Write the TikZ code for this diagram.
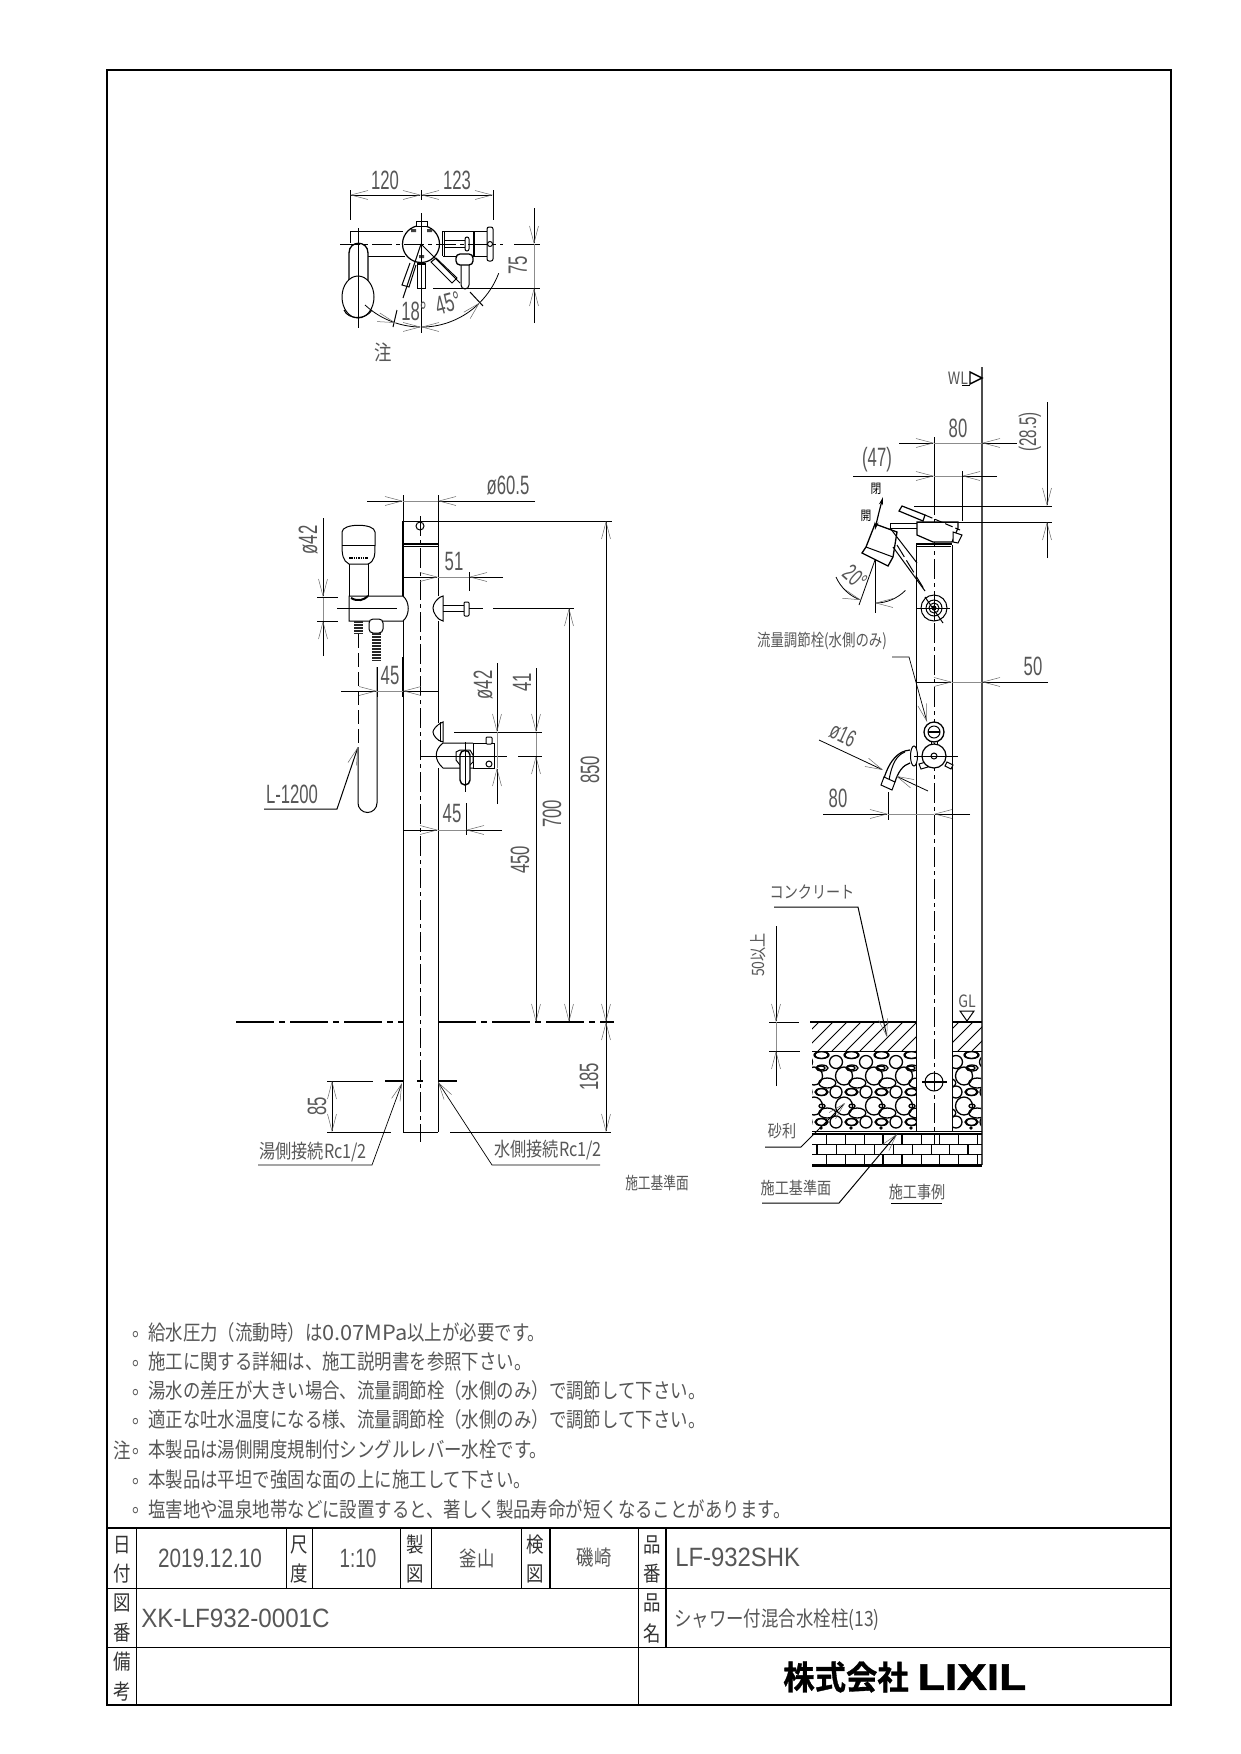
\documentclass[tikz,border=0pt]{standalone}
\usepackage{fontspec}
\usetikzlibrary{arrows.meta}
\newfontfamily\jpf[FakeStretch=.83]{Noto Sans CJK JP}
\newfontfamily\jpb[FakeStretch=.95,FakeBold=1]{Noto Sans CJK JP Bold}
\newfontfamily\dgf[FakeStretch=.63]{Liberation Sans}
\newfontfamily\lgf[FakeStretch=1.2,FakeBold=1.5]{Liberation Sans Bold}
\definecolor{txtc}{gray}{0.34}
\tikzset{
  x=1pt,y=-1pt,
  ab/.tip={Straight Barb[length=17pt,width=9pt,line width=.5pt,color=black!60]},
  ln/.style={line width=1pt,black},
  dl/.style={line width=.8pt,black},
  gd/.style={line width=.8pt,black!45},
  frameline/.style={line width=2.6pt,black},
  cell/.style={line width=1pt,black},
  cdash/.style={line width=.9pt,dash pattern=on 20pt off 4pt on 4pt off 4pt},
  gdash/.style={line width=2pt,dash pattern=on 38pt off 5pt on 6pt off 5pt},
  dt/.style={font=\dgf\fontsize{26.5}{27}\selectfont,text=txtc,inner sep=0pt},
  ts/.style={font=\dgf\fontsize{24}{25}\selectfont,text=txtc,inner sep=0pt},
  jt/.style={font=\jpf\fontsize{21}{22}\selectfont,text=txtc,inner sep=0pt},
  jm/.style={font=\jpf\fontsize{19.5}{22}\selectfont,text=txtc,inner sep=0pt},
  js/.style={font=\jpf\fontsize{17}{18}\selectfont,text=txtc,inner sep=0pt},
  jc/.style={font=\jpf\fontsize{21}{22}\selectfont,text=black!80,inner sep=0pt},
  nt/.style={jt,anchor=west},
}
\begin{document}
\begin{tikzpicture}
\useasboundingbox (0,0) rectangle (1240,1754);
\fill[white] (0,0) rectangle (1240,1754);
% ---------- frame and title block
\draw[line width=2pt] (107,70) rectangle (1171,1705);
\draw[frameline] (107,1528) -- (1171,1528);
\draw[frameline] (107,1705) -- (1171,1705);
\draw[cell] (107,1588) -- (1171,1588);
\draw[cell] (107,1647) -- (1171,1647);
\foreach \xx in {136,286,312,400,431,521,638}{\draw[cell] (\xx,1528) -- (\xx,1588);}
\draw[line width=1.8pt] (550,1528) -- (550,1588);
\draw[line width=1.8pt] (666,1528) -- (666,1647);
\draw[cell] (136,1588) -- (136,1705);
\draw[cell] (638,1588) -- (638,1705);
\node[jc] (a1) at (122,1545) {日};\node[jc] (a2) at (122,1574) {付};
\node[jc] (a3) at (299,1545) {尺};\node[jc] (a4) at (299,1574) {度};
\node[jc] (a5) at (415,1545) {製};\node[jc] (a6) at (415,1574) {図};
\node[jc] (a7) at (535,1545) {検};\node[jc] (a8) at (535,1574) {図};
\node[jc] (a9) at (652,1545) {品};\node[jc] (a10) at (652,1574) {番};
\node[jc] (a11) at (122,1603) {図};\node[jc] (a12) at (122,1633) {番};
\node[jc] (a13) at (652,1603) {品};\node[jc] (a14) at (652,1633) {名};
\node[jc] (a15) at (122,1662) {備};\node[jc] (a16) at (122,1692) {考};
\node[dt,xscale=1.24] (date) at (210,1558) {2019.12.10};
\node[dt,xscale=1.13] (scale) at (358,1558) {1:10};
\node[jt] (drawn) at (477,1558) {釜山};
\node[jt] (chk) at (594,1558) {磯崎};
\node[dt,xscale=1.43,anchor=west] (pno) at (675,1557) {LF-932SHK};
\node[dt,xscale=1.45,anchor=west] (dno) at (141,1618) {XK-LF932-0001C};
\node[jt,anchor=west] (pname) at (674,1620) {シャワー付混合水栓柱(13)};
\node[font=\jpb\fontsize{33}{34}\selectfont,inner sep=0pt] (co) at (846,1677) {株式会社};
\node[font=\lgf\fontsize{37}{38}\selectfont,inner sep=0pt] (lx) at (972,1677) {LIXIL};
% ---------- notes
\foreach \yy/\tt in {1333/給水圧力（流動時）は\scalebox{1.25}[1]{0.07MPa}以上が必要です。,
 1362/施工に関する詳細は、施工説明書を参照下さい。,
 1391/湯水の差圧が大きい場合、流量調節栓（水側のみ）で調節して下さい。,
 1420/適正な吐水温度になる様、流量調節栓（水側のみ）で調節して下さい。,
 1450/本製品は湯側開度規制付シングルレバー水栓です。,
 1480/本製品は平坦で強固な面の上に施工して下さい。,
 1509/塩害地や温泉地帯などに設置すると、著しく製品寿命が短くなることがあります。}{
  \node[nt] at (148,\yy) {\tt};
  \node[nt] at (132,\yy+2) {。};
}
\node[jt] (chu) at (122,1450) {注};
% ---------- top view
\draw[dl] (350,190) -- (350,220);
\draw[dl] (421,190) -- (421,200);
\draw[dl] (493,190) -- (493,220);
\draw[dl,ab-ab] (350,195) -- (421,195);
\draw[dl,ab-ab] (421,195) -- (493,195);
\node[dt] (t120) at (385,180) {120};
\node[dt] (t123) at (457,180) {123};
\draw[ln] (403,231) -- (350,231) -- (350,243);
\draw[ln] (368,256) -- (405,256);
\draw[ln] (443,231) -- (487,231);
\draw[ln] (443,256) -- (487,256);
\draw[ln] (442,231) -- (442,256);
\draw[ln] (444,231) -- (444,256);
\draw[line width=1.4pt] (474,231) -- (474,256);
\draw[ln] (444,240) -- (466,240);
\draw[ln] (444,247) -- (466,247);
\draw[ln,fill=white,rounded corners=2pt] (465,237) rectangle (469,251);
\draw[ln,fill=white,rounded corners=2pt] (487,227) rectangle (493,261);
\draw[ln] (490,244) circle[radius=2.5];
\draw[line width=1.2pt,fill=white] (421,244) circle[radius=18.5];
\draw[ln,fill=white] (416,221) rectangle (427,226);
\fill[black!75] (411,229) rectangle (416,232) (427,229) rectangle (432,232) (419,255) rectangle (424,258);
% pill + head
\draw[line width=1.3pt,fill=white] (349,285) -- (349,253) .. controls (349,240) and (368,240) .. (368,253) -- (368,285);
\draw[ln,fill=white] (358,297) ellipse[x radius=16,y radius=21];
\draw[ln] (344,310) .. controls (348,320) and (366,320) .. (372,310);
% levers
\draw[ln,fill=white] (417,263) -- (417,288) -- (425,288) -- (425,263);
\draw[line width=1.8pt] (417,264) -- (425,264);
\draw[ln,fill=white] (410,263) -- (402,285) -- (409,287) -- (416,265);
\draw[ln,fill=white] (436,258) -- (431,262) -- (452,283) -- (457,278) -- cycle;
\draw[ln,fill=white] (461,264) -- (461,285) arc[start angle=180,end angle=0,radius=4] -- (469,264);
\draw[line width=1.3pt,fill=white,rounded corners=4pt] (456,254) rectangle (473,265);
\draw[ln] (421,244) -- (460,283);
\draw[ln] (470,292) -- (483,306);
\draw[ln] (421,244) -- (403,298);
\draw[ln] (397,310) -- (393,327);
\draw[line width=1.8pt,cdash] (340,244) -- (503,244);
\draw[ln] (421,192) -- (421,200) (421,213) -- (421,333);
\draw[ln] (358,228) -- (358,328);
\draw[dl,-ab] (365,305) arc[start angle=132.6,end angle=108,radius=83];
\draw[dl,-ab] (395.4,322.9) arc[start angle=108,end angle=90,radius=83];
\draw[dl,ab-ab] (421,327) arc[start angle=90,end angle=45,radius=83];
\draw[dl] (479.7,302.7) arc[start angle=45,end angle=20.6,radius=83];
\node[dt] (t18) at (414,311) {18°};
\node[dt,rotate=15] (t45) at (448,303) {45°};
\node[jt] (tchu) at (383,352) {注};
\draw[dl] (514,244) -- (540,244);
\draw[dl] (433,288) -- (540,288);
\draw[dl,-ab] (534,208) -- (534,244);
\draw[gd] (534,244) -- (534,288);
\draw[dl,-ab] (534,323) -- (534,288);
\node[dt,rotate=90] (t75) at (518,265) {75};
% ---------- front view : post
\draw[ln] (403,521) -- (438,521);
\draw[line width=1.6pt] (403,521) -- (403,596);
\draw[ln] (403,621) -- (403,1132) -- (438,1132);
\draw[line width=1.8pt] (403,657) -- (403,697);
\draw[ln] (438,521) -- (438,596);
\draw[ln] (438,621) -- (438,723);
\draw[ln] (438,768) -- (438,1132);
\draw[line width=1.4pt] (403,544) -- (438,544);
\draw[ln] (403,546) -- (438,546);
\draw[ln] (420,526) circle[radius=4];
\draw[ln,cdash] (420,516) -- (420,1142);
% shower head, front
\draw[ln,fill=white] (342,545) -- (342,532) .. controls (342,523) and (375,523) .. (375,532) -- (375,545) .. controls (375,555) and (375,561) .. (368,564) -- (349,564) .. controls (343,561) and (342,555) .. (342,545);
\draw[ln] (342,545) -- (375,545);
\draw[line width=2.5pt,dash pattern=on 1.5pt off .8pt] (349,558) -- (368,558);
\draw[ln] (349,564) -- (349,596) (368,564) -- (368,596);
\draw[line width=2pt] (351,598) .. controls (358,602) and (364,600) .. (368,596);
% mixer body
\draw[ln] (349,596) -- (403,596) .. controls (410,602) and (410,615) .. (403,621) -- (349,621) -- cycle;
\draw[ln,dash pattern=on 60pt off 6pt] (337,608) -- (397,608);
\fill[black!85] (354,621) rectangle (363,634);
\foreach \yy in {623,626,...,634}{\draw[white,line width=.6pt] (354,\yy) -- (363,\yy);}
\draw[ln,fill=white,rounded corners=4pt] (369,619) rectangle (383,633);
\fill[black!85] (372,633) rectangle (381,661);
\foreach \yy in {635,638,...,661}{\draw[white,line width=.6pt] (372,\yy) -- (381,\yy);}
% hose
\draw[ln,dash pattern=on 14pt off 5pt] (358,634) -- (358,747);
\draw[ln] (358,747) -- (358,803) arc[start angle=180,end angle=0,radius=9.5] -- (377,667);
\node[dt] (l1200) at (292,794) {L-1200};
\draw[line width=1pt,-ab] (264,809) -- (337,809) -- (358,747);
% upper right knob
\draw[ln,fill=white] (443,596) .. controls (436,598) and (433,605) .. (433,608) .. controls (433,612) and (437,620) .. (443,621) -- cycle;
\draw[ln] (443,605) -- (465,605) (443,611) -- (465,611);
\draw[ln,fill=white,rounded corners=1pt] (464,602) rectangle (469,616);
\draw[ln,dash pattern=on 14pt off 6pt] (469,608) -- (484,608);
% lower right fitting
\draw[ln,fill=white] (443,722) .. controls (436,725) and (433,730) .. (433,732) .. controls (433,735) and (437,741) .. (443,742) -- cycle;
\draw[ln] (440,722) -- (440,742);
\draw[ln] (473,743) -- (443,743) .. controls (434,750) and (434,760) .. (443,768) -- (473,768);
\draw[ln] (473,743) rectangle (494,768);
\draw[ln,fill=white,rounded corners=1pt] (486,737) rectangle (492,744);
\draw[ln] (489,764) circle[radius=3];
\draw[ln,fill=white] (456,752) -- (460,750) -- (470,750) -- (473,755) -- (473,762) -- (470,765) -- (460,765) -- (456,760) -- cycle;
\draw[line width=1.4pt,fill=white] (460,755) -- (460,780) arc[start angle=180,end angle=0,radius=5] -- (470,755) .. controls (470,749) and (460,749) .. (460,755);
\draw[ln] (465,742) -- (465,792);
\draw[ln] (420,756) -- (507,756);
% dims front
\draw[dl] (403,495) -- (403,521) (438,495) -- (438,521);
\draw[dl,-ab] (367,501) -- (403,501);
\draw[gd] (403,501) -- (438,501);
\draw[dl,-ab] (535,501) -- (438,501);
\node[dt] (t605) at (508,485) {ø60.5};
\draw[dl] (438,521) -- (612,521);
\draw[dl,ab-ab] (606,521) -- (606,1022);
\node[dt,rotate=90] (t850) at (590,770) {850};
\draw[dl] (493,608) -- (574,608);
\draw[dl,ab-ab] (569,608) -- (569,1022);
\node[dt,rotate=90] (t700) at (552,814) {700};
\draw[dl,-ab] (536,1000) -- (536,1022);
\draw[dl,ab-] (536,756) -- (536,1000);
\node[dt,rotate=90] (t450) at (520,860) {450};
\draw[dl,-ab] (536,668) -- (536,732);
\draw[gd] (536,732) -- (536,756);
\draw[dl] (454,732) -- (542,732) (518,756) -- (542,756);
\node[dt,rotate=90] (t41) at (522,682) {41};
\draw[dl,-ab] (497,663) -- (497,732);
\draw[gd] (497,732) -- (497,768);
\draw[dl,-ab] (497,804) -- (497,768);
\node[dt,rotate=90] (t42b) at (483,685) {ø42};
\draw[dl] (466,803) -- (466,835);
\draw[dl] (403,830) -- (420,830);
\draw[dl,-ab] (420,830) -- (438,830);
\draw[gd] (438,830) -- (466,830);
\draw[dl,-ab] (502,830) -- (466,830);
\node[dt] (t45c) at (452,814) {45};
\draw[dl] (469,572) -- (469,591);
\draw[dl] (403,577) -- (420,577);
\draw[dl,-ab] (420,577) -- (438,577);
\draw[gd] (438,577) -- (469,577);
\draw[dl,-ab] (503,577) -- (469,577);
\node[dt] (t51) at (454,562) {51};
\draw[dl] (377,667) -- (377,697);
\draw[dl,-ab] (341,691) -- (377,691);
\draw[gd] (377,691) -- (403,691);
\draw[dl,-ab] (438,691) -- (403,691);
\node[dt] (t45d) at (390,676) {45};
\draw[dl,-ab] (323,518) -- (323,597);
\draw[gd] (323,597) -- (323,621);
\draw[dl,-ab] (323,656) -- (323,621);
\draw[dl] (317,597) -- (338,597) (317,621) -- (338,621);
\node[dt,rotate=90] (t42a) at (308,540) {ø42};
% ground front
\draw[gdash] (236,1022) -- (403,1022);
\draw[gdash] (438,1022) -- (614,1022);
\draw[dl] (327,1081) -- (373,1081);
\draw[line width=1.8pt] (385,1081) -- (403,1081) (417,1081) -- (423,1081) (438,1081) -- (457,1081);
\draw[dl] (327,1132) -- (391,1132);
\draw[dl] (450,1132) -- (611,1132);
\draw[dl,ab-ab] (332,1081) -- (332,1132);
\node[dt,rotate=90] (t85) at (317,1106) {85};
\draw[dl,ab-ab] (606,1022) -- (606,1132);
\node[dt,rotate=90] (t185) at (589,1077) {185};
\draw[line width=.7pt,-ab] (258,1165) -- (372,1165) -- (402,1083);
\draw[line width=.7pt,-ab] (600,1165) -- (492,1165) -- (438,1082);
\node[jm] (lhot) at (313,1152) {湯側接続Rc1/2};
\node[jm] (lcold) at (548,1150) {水側接続Rc1/2};
\node[js,xscale=.9] (lbase) at (657,1183) {施工基準面};
% ---------- side view
\draw[line width=2.6pt,black!70] (982,367) -- (982,1165);
\draw[line width=1.4pt,fill=white] (970,372) -- (982,378) -- (970,384) -- cycle;
\draw[ln] (962,385) -- (970,385);
\node[js] (wl) at (958,378) {WL};
\draw[ln] (916,545) -- (916,1131) -- (952,1131) -- (952,545);
\draw[ln,cdash] (934,495) -- (934,1145);
\draw[dl] (934,437) -- (934,495);
\draw[line width=1.4pt] (916,544) -- (952,544);
\draw[ln] (917,546) -- (951,546);
\draw[line width=1.2pt,fill=white] (899,511) -- (902,506) -- (925,515) -- (923,521) -- cycle;
\draw[ln] (890,528) -- (890,523) -- (917,523);
\draw[ln] (890,528) -- (917,528);
\draw[line width=1.2pt,fill=white] (917,522) -- (958,522) -- (958,528) -- (952,542) -- (933,542) -- (917,535) -- cycle;
\draw[ln,fill=white] (953,532) -- (962,535) -- (958,543) -- (953,542) -- cycle;
\draw[ln,dash pattern=on 8pt off 3pt] (925,515) -- (960,530);
% shower head, side
\draw[line width=1.3pt,fill=white] (875,524) -- (897,532) -- (893,557) -- (888,566) -- (862,553) -- (866,547) -- cycle;
\draw[ln] (866,547) -- (893,557);
\draw[ln] (890,528) -- (917,563);
\draw[ln] (893,547) -- (925,591);
\draw[ln,dash pattern=on 14pt off 4pt] (897,545) -- (924,589);
\draw[line width=1.2pt,{Stealth[length=8pt,width=4pt]}-{Stealth[length=8pt,width=4pt]}] (875,530) .. controls (877,520) and (880,508) .. (883,497);
\node[font=\jpf\fontsize{13}{14}\selectfont,inner sep=0pt] (opn) at (876,489) {閉};
\node[font=\jpf\fontsize{13}{14}\selectfont,inner sep=0pt] (cls) at (866,516) {開};
\draw[dl] (875,560) -- (875,613);
\draw[dl] (875,560) -- (859,605);
\draw[dl,-ab] (836,577) arc[start angle=156,end angle=109.5,radius=43];
\draw[dl,ab-] (875,603) arc[start angle=90,end angle=45,radius=43];
\node[ts,rotate=-42] (t20) at (855,577) {20°};
% valve top
\draw[ln,fill=white] (934,608) circle[radius=13];
\draw[ln] (934,608) circle[radius=8];
\draw[ln] (934,608) circle[radius=5];
\fill (934,608) circle[radius=2.5];
\draw[ln] (917,608) -- (950,608) (934,595) -- (934,621);
\draw[ln] (925,597) -- (943,623);
% dims side
\draw[dl,-ab] (899,443) -- (934,443);
\draw[gd] (934,443) -- (982,443);
\draw[dl,-ab] (1017,443) -- (982,443);
\node[dt] (t80a) at (958,428) {80};
\draw[dl,-ab] (853,476) -- (934,476);
\draw[gd] (934,476) -- (962,476);
\draw[dl,-ab] (997,476) -- (962,476);
\draw[dl] (962,471) -- (962,521);
\node[dt] (t47) at (877,460) {(47)};
\draw[dl] (914,506) -- (1052,506);
\draw[dl] (917,522) -- (1052,522);
\draw[dl,-ab] (1047,402) -- (1047,506);
\draw[dl,-ab] (1047,558) -- (1047,522);
\node[ts,rotate=90] (t285) at (1030,432) {(28.5)};
\node[js,xscale=.95] (lflow) at (822,641) {流量調節栓(水側のみ)};
\draw[line width=.7pt,-ab] (892,657) -- (909,657) -- (927,722);
\draw[dl] (916,682) -- (934,682);
\draw[dl,-ab] (934,682) -- (952,682);
\draw[gd] (952,682) -- (982,682);
\draw[dl,-ab] (1048,682) -- (982,682);
\node[dt] (t50) at (1033,666) {50};
% lower valve
\draw[ln] (931,741) -- (931,750) (937,741) -- (937,750);
\draw[line width=1.3pt,fill=white] (934,732) circle[radius=10];
\draw[ln] (934,732) circle[radius=6];
\draw[line width=1.8pt] (928,732) -- (940,732);
\draw[ln,fill=white] (947,762) -- (953,765) -- (951,769) -- (945,766) -- cycle;
\draw[ln,fill=white] (926,762) -- (919,764) -- (921,769) -- (928,767) -- cycle;
\draw[line width=1.2pt,fill=white] (934,756) circle[radius=12];
\draw[ln] (934,756) circle[radius=3];
\draw[ln,fill=white] (914,756) ellipse[x radius=3.5,y radius=10];
\draw[ln] (918,756) -- (922,756);
\draw[ln] (914,756) -- (958,756);
\draw[line width=1.2pt] (910,750) .. controls (898,751) and (890,760) .. (884,778);
\draw[line width=1.2pt] (910,763) .. controls (903,765) and (898,772) .. (895,782);
\draw[ln] (905,752) .. controls (897,755) and (892,763) .. (889,780);
\draw[ln,fill=white] (884,777) -- (895,782) -- (892,790) -- (881,785) -- cycle;
\draw[dl,-ab] (819,740) -- (883,770);
\draw[dl,-ab] (928,791) -- (896,776);
\node[ts,rotate=-25] (t16) at (843,735) {ø16};
\draw[dl] (888,792) -- (888,820);
\draw[dl,-ab] (823,814) -- (888,814);
\draw[gd] (888,814) -- (934,814);
\draw[dl,-ab] (970,814) -- (934,814);
\node[dt] (t80b) at (838,798) {80};
% ground side
\begin{scope}
\clip (812,1022) rectangle (916,1051) (952,1022) rectangle (982,1051);
\foreach \xx in {790,804,...,980}{\draw[line width=.9pt] (\xx,1051) -- (\xx+29,1022);}
\end{scope}
\draw[line width=1.8pt] (810,1022) -- (916,1022) (952,1022) -- (982,1022);
\draw[ln] (812,1051) -- (916,1051) (952,1051) -- (982,1051);
\begin{scope}
\clip (812,1051) rectangle (916,1131) (952,1051) rectangle (981,1131);
\foreach \cc in {-1,0,...,5}{
 \pgfmathsetmacro{\xa}{836+30*\cc}
 \pgfmathsetmacro{\xb}{\xa+8}
 \pgfmathsetmacro{\xc}{\xa-8.7}
 \pgfmathsetmacro{\xd}{\xa-14}
 \pgfmathsetmacro{\xe}{\xa+15}
 \begin{scope}[line width=1.3pt]
 \draw (\xa,1062) circle[radius=6.5];
 \draw (\xb,1076) ellipse[x radius=8.5,y radius=9];
 \draw (\xc,1083) ellipse[x radius=8.5,y radius=5];
 \draw (\xa,1092) circle[radius=6];
 \draw (\xb,1106) ellipse[x radius=8.5,y radius=9];
 \draw (\xc,1113) ellipse[x radius=8.5,y radius=5];
 \draw (\xa,1122) circle[radius=6];
 \draw (\xd,1055) ellipse[x radius=7,y radius=3.5];
 \draw (\xe,1055) ellipse[x radius=7,y radius=3.5];
 \draw (\xd,1068) ellipse[x radius=6,y radius=3];
 \draw (\xe,1068) ellipse[x radius=4,y radius=2];
 \draw (\xd,1092) ellipse[x radius=6,y radius=3.5];
 \draw (\xe,1092) ellipse[x radius=6,y radius=3.5];
 \draw (\xd,1106) ellipse[x radius=3,y radius=2];
 \draw (\xd,1122) ellipse[x radius=6,y radius=3.5];
 \draw (\xe,1122) ellipse[x radius=6,y radius=3.5];
 \fill (\xe,1128) circle[radius=1.8];
 \end{scope}
}
\end{scope}
\draw[ln] (812,1131) -- (982,1131);
\draw[line width=1.4pt] (812,1134) -- (982,1134);
\draw[ln] (812,1144) -- (982,1144) (812,1154) -- (982,1154);
\draw[line width=3pt] (812,1165) -- (982,1165);
\foreach \xx in {826,845,864,883,902,921,939,958,977}{\draw[ln] (\xx,1134) -- (\xx,1144) (\xx,1154) -- (\xx,1165);}
\foreach \xx in {836,855,874,893,912,931,949,968}{\draw[ln] (\xx,1144) -- (\xx,1154);}
\draw[line width=2pt] (883,1134) -- (883,1144) (902,1134) -- (902,1144) (883,1154) -- (883,1165) (902,1154) -- (902,1165) (817,1144) -- (817,1154) (968,1144) -- (968,1154);
\draw[ln] (934,1082) circle[radius=9];
\draw[line width=1.4pt] (922,1082) -- (947,1082);
\draw[ln] (960,1011) -- (974,1011) -- (967,1021) -- cycle;
\node[js] (gl) at (967,1001) {GL};
\node[js] (lcon) at (812,892) {コンクリート};
\draw[line width=1pt,-ab] (774,907) -- (858,907) -- (887,1037);
\draw[dl] (769,1022) -- (799,1022) (769,1051) -- (800,1051);
\draw[dl,-ab] (776,926) -- (776,1022);
\draw[gd] (776,1022) -- (776,1051);
\draw[dl,-ab] (776,1086) -- (776,1051);
\node[js,rotate=90] (t50up) at (758,955) {50以上};
\node[js] (lgrv) at (782,1131) {砂利};
\draw[line width=1pt,-ab] (765,1147) -- (801,1147) -- (845,1103);
\node[js] (lb2) at (796,1188) {施工基準面};
\draw[line width=1pt,-ab] (762,1203) -- (839,1203) -- (897,1134);
\node[js] (lcase) at (917,1192) {施工事例};
\draw[line width=1pt] (891,1203) -- (942,1203);
\end{tikzpicture}
\end{document}
